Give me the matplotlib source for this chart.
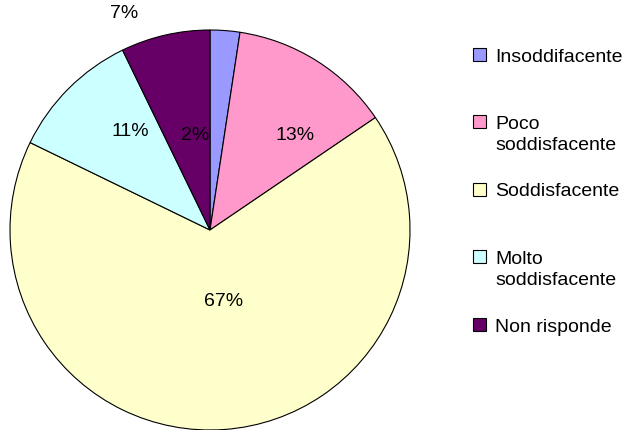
import matplotlib
matplotlib.use("Agg")
import matplotlib.pyplot as plt
from matplotlib.patches import Rectangle

categories = ["Insoddifacente", "Poco\nsoddisfacente", "Soddisfacente",
              "Molto\nsoddisfacente", "Non risponde"]
shares = [2.4, 13.1, 66.7, 10.6, 7.2]
colors = ["#9999FF", "#FF99CC", "#FFFFCC", "#CCFFFF", "#660066"]

# label positions in pie-radius units (as placed in the original)
label_pos = [(-0.075, 0.475), (0.425, 0.475), (0.07, -0.355),
             (-0.40, 0.50), (-0.43, 1.085)]

plt.rcParams["font.family"] = ["Liberation Sans", "DejaVu Sans"]

W, H = 632, 431
fig = plt.figure(figsize=(W / 100, H / 100), dpi=100)
ax = fig.add_axes([10 / W, 0 / H, 400 / W, 400 / H])

ax.pie(shares, colors=colors, startangle=90, counterclock=False,
       wedgeprops=dict(edgecolor="black", linewidth=0.8))
ax.set_xlim(-1, 1)
ax.set_ylim(-1, 1)
ax.set_aspect("equal")
ax.axis("off")

for v, (x, y) in zip(shares, label_pos):
    ax.text(x, y, f"{v:.0f}%", ha="center", va="center", fontsize=14)

# legend, drawn by hand to match the spacing of the original
base0, step = 61.5, 67.5
for i, (lab, c) in enumerate(zip(categories, colors)):
    yb = base0 + i * step
    fig.patches.append(Rectangle((473 / W, 1 - yb / H), 13 / W, 13 / H,
                                 transform=fig.transFigure, facecolor=c,
                                 edgecolor="black", linewidth=0.8))
    lines = lab.split("\n")
    for j, line in enumerate(lines):
        fig.text(495 / W, 1 - (yb + j * 21.5) / H, line, ha="left",
                 va="baseline", fontsize=14)

fig.savefig("out.png", dpi=100)
